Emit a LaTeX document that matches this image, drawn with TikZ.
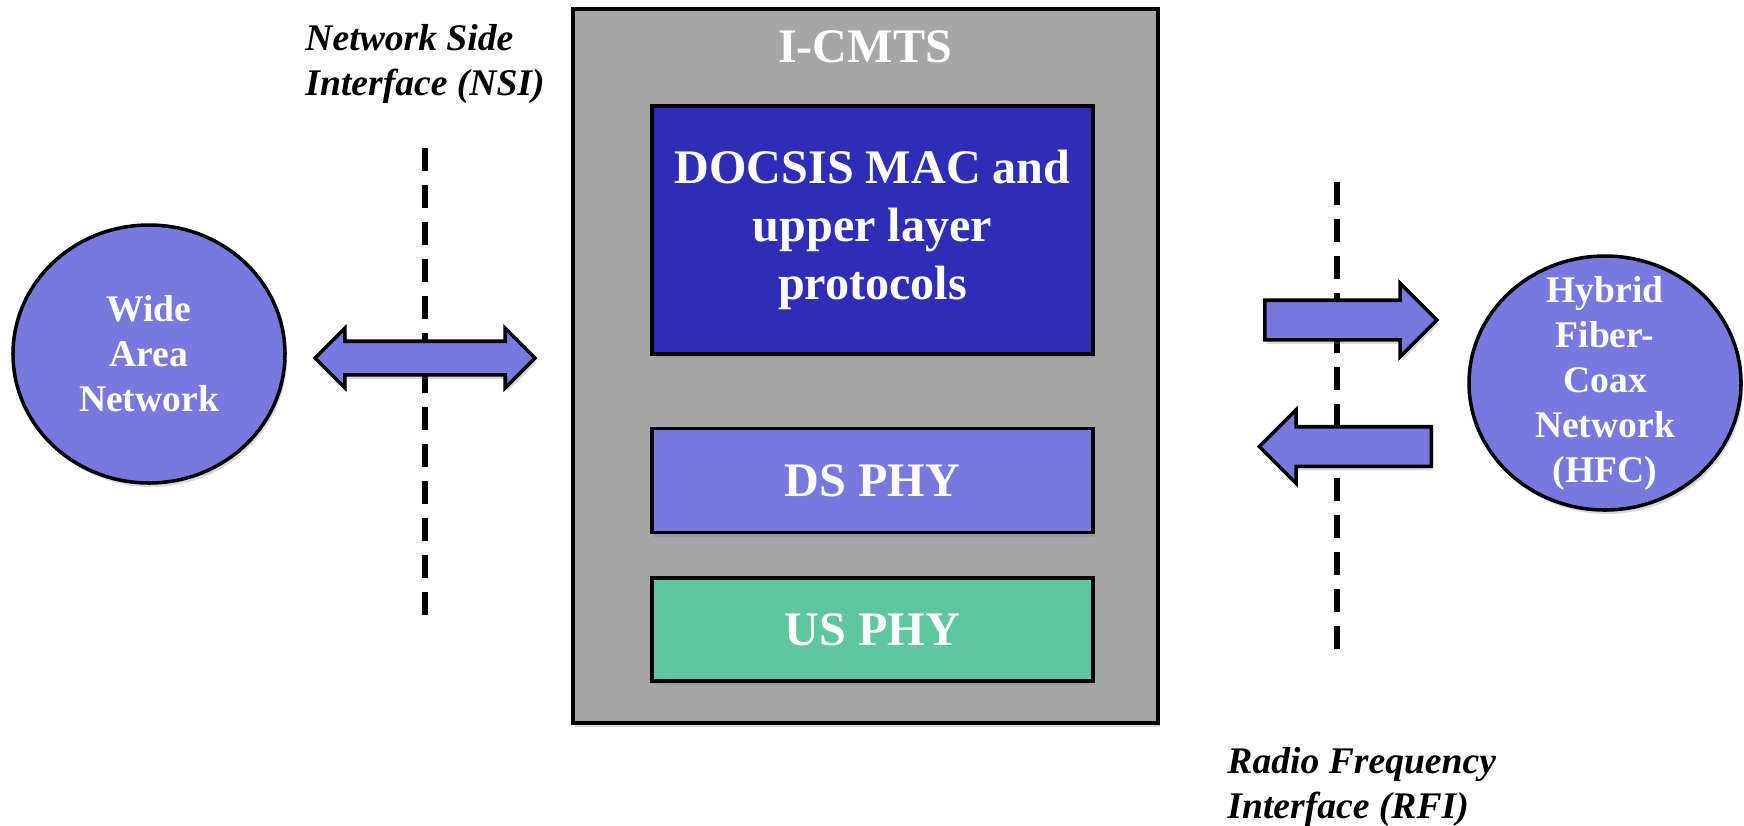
\documentclass[tikz,border=0pt]{standalone}
\usepackage{fontspec}
\setmainfont{Liberation Serif}
\usetikzlibrary{positioning,shapes.geometric,shapes.arrows,shadows}

\definecolor{cmtsgray}{RGB}{166,166,166}
\definecolor{macblue}{RGB}{47,45,183}
\definecolor{lavender}{RGB}{120,120,222}
\definecolor{usgreen}{RGB}{94,200,156}

\newcommand{\bigtxt}{\fontsize{13.7}{16.5}\selectfont\bfseries}
\newcommand{\smalltxt}{\fontsize{10.7}{12.8}\selectfont\bfseries}
\newcommand{\ifacetxt}{\fontsize{10.7}{12.8}\selectfont\bfseries\itshape}

\begin{document}
\begin{tikzpicture}
      [line width=1pt,
      softshadow/.style={drop shadow={shadow xshift=0.02cm, shadow yshift=-0.04cm, opacity=0.3}},
      chassis/.style={rectangle, draw, fill=cmtsgray, softshadow,
        minimum width=5.85cm, minimum height=7.14cm},
      layerbox/.style={rectangle, draw, softshadow, text=white, align=center,
        font=\bigtxt, minimum width=4.41cm},
      network/.style={ellipse, draw, fill=lavender, softshadow, text=white,
        align=center, inner sep=0pt, font=\smalltxt,
        minimum width=2.72cm, minimum height=2.58cm},
      flow/.style={single arrow, draw, fill=lavender, softshadow, inner xsep=0pt,
        inner ysep=0.18cm, minimum height=1.72cm, single arrow head extend=0.17cm},
      iface/.style={draw, line width=1.8pt, dash pattern=on 0.23cm off 0.14cm},
      ifacelabel/.style={align=left, anchor=west, font=\ifacetxt}]

      \useasboundingbox (0,0) rectangle (17.44,-8.25);

      % interface boundaries
      \coordinate (nsitop) at (4.25,-1.48);
      \coordinate (nsibot) at (4.25,-6.18);
      \coordinate (rfitop) at (13.37,-1.82);
      \coordinate (rfibot) at (13.37,-6.51);
      \draw [iface] (nsitop) -- (nsibot);
      \draw [iface] (rfitop) -- (rfibot);
      \node [ifacelabel] (nsi) at (2.92,-0.64) {Network Side\\Interface (NSI)};
      \node [ifacelabel] (rfi) at (12.14,-7.87) {Radio Frequency\\Interface (RFI)};

      % the CMTS and its layers
      \node [chassis] (cmts) at (8.655,-3.66) {};
      \node [text=white, font=\bigtxt] (title) at (8.65,-0.47) {I-CMTS};
      \node [layerbox, fill=macblue, minimum height=2.48cm] (mac) at (8.725,-2.30)
      {DOCSIS MAC and\\upper layer\\protocols};
      \node [layerbox, fill=lavender, minimum height=1.04cm, below=0.71cm of mac] (ds) {DS PHY};
      \node [layerbox, fill=usgreen, minimum height=1.03cm, below=0.42cm of ds] (us) {US PHY};

      % networks on both sides
      \node [network] (wan) at (1.49,-3.54) {Wide\\Area\\Network};
      \node [network, inner ysep=-0.35cm, minimum height=2.54cm] (hfc) at (16.05,-3.83)
      {Hybrid\\Fiber-\\Coax\\Network\\(HFC)};

      \node [double arrow, draw, fill=lavender, softshadow, inner xsep=0pt,
        inner ysep=0.15cm, minimum height=2.20cm,
        double arrow head extend=0.13cm] (nsiflow) at (4.25,-3.58) {};
      \node [flow, anchor=tail] (dsflow) at (12.63,-3.20) {};
      \node [flow, shape border rotate=180, anchor=tail] (usflow) at (14.33,-4.465) {};
\end{tikzpicture}
\end{document}
